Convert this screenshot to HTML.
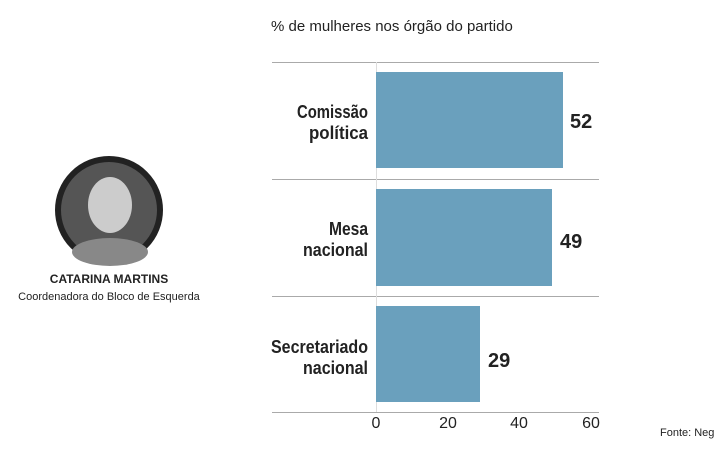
<!DOCTYPE html>
<html><head><style>
body{margin:0;width:715px;height:445px;background:#fff;overflow:hidden;font-family:"Liberation Sans",sans-serif;}
</style></head><body>
<svg width="715" height="445" xmlns="http://www.w3.org/2000/svg" font-family="Liberation Sans, sans-serif">
<rect width="715" height="445" fill="#fff"/>
<text x="271" y="31" font-size="15" fill="#222">% de mulheres nos órgão do partido</text>
<g stroke="#aaa" stroke-width="1">
<line x1="272" y1="62.5" x2="599" y2="62.5"/>
<line x1="272" y1="179.5" x2="599" y2="179.5"/>
<line x1="272" y1="296.5" x2="599" y2="296.5"/>
<line x1="272" y1="412.5" x2="599" y2="412.5"/>
</g>
<line x1="376.5" y1="62" x2="376.5" y2="412" stroke="#ddd"/>
<g fill="#6aa0bd">
<rect x="376" y="72" width="187" height="96"/>
<rect x="376" y="189" width="176" height="97"/>
<rect x="376" y="306" width="104" height="96"/>
</g>
<g font-size="18" font-weight="bold" fill="#222" lengthAdjust="spacingAndGlyphs">
<text x="297" y="118" textLength="71" lengthAdjust="spacingAndGlyphs">Comissão</text><text x="309" y="139" textLength="59" lengthAdjust="spacingAndGlyphs">política</text>
<text x="329" y="235" textLength="39" lengthAdjust="spacingAndGlyphs">Mesa</text><text x="303" y="256" textLength="65" lengthAdjust="spacingAndGlyphs">nacional</text>
<text x="271" y="353" textLength="97" lengthAdjust="spacingAndGlyphs">Secretariado</text><text x="303" y="374" textLength="65" lengthAdjust="spacingAndGlyphs">nacional</text>
</g>
<g font-size="20" font-weight="bold" fill="#222">
<text x="570" y="128">52</text>
<text x="560" y="248">49</text>
<text x="488" y="367">29</text>
</g>
<g font-size="16" fill="#222" text-anchor="middle">
<text x="376" y="428">0</text><text x="448" y="428">20</text><text x="519" y="428">40</text><text x="591" y="428">60</text>
</g>
<text x="660" y="436" font-size="11" fill="#222">Fonte: Neg</text>
<circle cx="109" cy="210" r="51" fill="#555"/>
<circle cx="109" cy="210" r="51" fill="none" stroke="#222" stroke-width="6"/>
<ellipse cx="110" cy="205" rx="22" ry="28" fill="#ccc"/>
<ellipse cx="110" cy="252" rx="38" ry="14" fill="#888"/>
<text x="109" y="283" font-size="12" font-weight="bold" fill="#222" text-anchor="middle">CATARINA MARTINS</text>
<text x="109" y="300" font-size="11" fill="#222" text-anchor="middle">Coordenadora do Bloco de Esquerda</text>
</svg>
</body></html>
